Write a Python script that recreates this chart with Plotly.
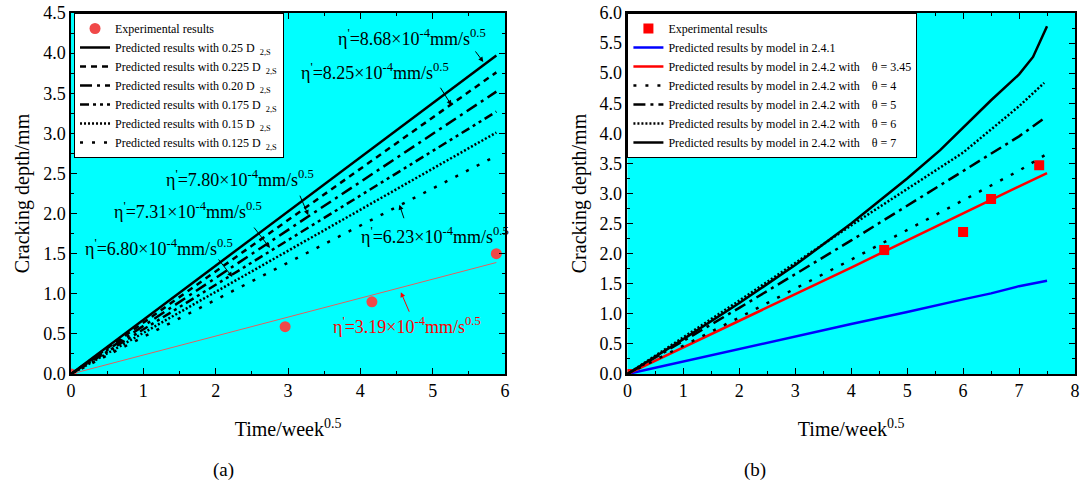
import plotly.graph_objects as go

# ---------------- Panel (a) data ----------------
a_exp_x = [0, 2.96, 4.16, 5.88]
a_exp_y = [0, 0.59, 0.90, 1.50]
a_fit_x = [0, 5.88]
a_fit_y = [0, 1.39]
a_line_x = [0, 5.88]
a_labels = ["0.25", "0.225", "0.20", "0.175", "0.15", "0.125"]
a_line_end = [3.97, 3.76, 3.52, 3.27, 3.01, 2.72]
a_dashes = ["solid", "6px,5px", "12px,5px,3px,5px", "9px,4px,3px,4px,3px,4px", "2px,2px", "3px,9px"]

# ---------------- Panel (b) data ----------------
b_exp_x = [0, 4.59, 6.0, 6.5, 7.36]
b_exp_y = [0, 2.06, 2.36, 2.91, 3.47]
b_blue_x = [0, 1, 2, 3, 4, 5, 5.6, 6, 6.5, 7, 7.5]
b_blue_y = [0, 0.21, 0.42, 0.62, 0.83, 1.03, 1.16, 1.24, 1.34, 1.46, 1.55]
b_red_x = [0, 2, 4, 6, 7.5]
b_red_y = [0, 0.88, 1.77, 2.67, 3.34]
b_t4_x = [0, 2, 4, 6, 7, 7.5]
b_t4_y = [0, 0.94, 1.90, 2.88, 3.38, 3.66]
b_t5_x = [0, 2, 4, 6, 7, 7.45]
b_t5_y = [0, 1.10, 2.22, 3.37, 3.95, 4.25]
b_t6_x = [0, 2, 4, 6, 7, 7.45]
b_t6_y = [0, 1.22, 2.47, 3.68, 4.45, 4.84]
b_t7_x = [0, 1, 2, 3, 4, 5, 5.59, 6, 6.5, 7, 7.25, 7.5]
b_t7_y = [0, 0.58, 1.18, 1.81, 2.50, 3.25, 3.72, 4.10, 4.55, 4.98, 5.27, 5.78]
b_thetas = ["3.45", "4", "5", "6", "7"]

FONT = "Liberation Serif"
NB = "\u00a0"

fig = go.Figure()

# Panel (a) traces
fig.add_trace(go.Scatter(x=a_exp_x, y=a_exp_y, mode="markers", name="Experimental results",
                         marker=dict(color="#F04848", size=11, symbol="circle"),
                         xaxis="x", yaxis="y", legend="legend"))
fig.add_trace(go.Scatter(x=a_fit_x, y=a_fit_y, mode="lines", showlegend=False,
                         line=dict(color="#E06060", width=1),
                         xaxis="x", yaxis="y"))
for lab, yend, dsh in zip(a_labels, a_line_end, a_dashes):
    fig.add_trace(go.Scatter(x=a_line_x, y=[0, yend], mode="lines",
                             name=f"Predicted results with {lab} D{NB}<sub>{NB}2,S</sub>",
                             line=dict(color="black", width=2.5, dash=dsh),
                             xaxis="x", yaxis="y", legend="legend"))

# Panel (b) traces
fig.add_trace(go.Scatter(x=b_exp_x, y=b_exp_y, mode="markers", name="Experimental results",
                         marker=dict(color="#FF0000", size=10, symbol="square"),
                         xaxis="x2", yaxis="y2", legend="legend2"))
fig.add_trace(go.Scatter(x=b_blue_x, y=b_blue_y, mode="lines", name="Predicted results by model in 2.4.1",
                         line=dict(color="#0000FF", width=2.5), xaxis="x2", yaxis="y2", legend="legend2"))
b_series = [(b_red_x, b_red_y, "#FF0000", "solid"),
            (b_t4_x, b_t4_y, "black", "3px,9px"),
            (b_t5_x, b_t5_y, "black", "12px,5px,3px,5px"),
            (b_t6_x, b_t6_y, "black", "2px,2px"),
            (b_t7_x, b_t7_y, "black", "solid")]
for th, (xs, ys, col, dsh) in zip(b_thetas, b_series):
    fig.add_trace(go.Scatter(x=xs, y=ys, mode="lines",
                             name=f"Predicted results by model in 2.4.2 with{NB*4}θ = {th}",
                             line=dict(color=col, width=2.5, dash=dsh),
                             xaxis="x2", yaxis="y2", legend="legend2"))

axis_common = dict(showline=True, linecolor="black", linewidth=1.5, mirror="allticks",
                   ticks="inside", ticklen=6, tickwidth=1.2, tickcolor="black",
                   showgrid=False, zeroline=False, automargin=False,
                   tickfont=dict(family=FONT, size=18, color="black"),
                   title_font=dict(family=FONT, size=20, color="black"))

fig.update_layout(
    width=1081, height=484,
    margin=dict(l=71, r=6, t=13, b=110),
    paper_bgcolor="white", plot_bgcolor="#00FFFF",
    font=dict(family=FONT, color="black"),
    xaxis=dict(domain=[0, 0.4323], range=[0, 6], dtick=1, anchor="y",
               minor=dict(ticks="inside", ticklen=3, dtick=0.5, tickcolor="black"),
               title=dict(text="Time/week<sup>0.5</sup>", standoff=22), **axis_common),
    yaxis=dict(domain=[0, 1], range=[0, 4.5], dtick=0.5, tickformat=".1f", anchor="x",
               minor=dict(ticks="inside", ticklen=3, dtick=0.25, tickcolor="black"),
               title=dict(text="Cracking depth/mm", standoff=8), **axis_common),
    xaxis2=dict(domain=[0.5542, 1.0], range=[0, 8], dtick=1, anchor="y2",
                minor=dict(ticks="inside", ticklen=3, dtick=0.5, tickcolor="black"),
                title=dict(text="Time/week<sup>0.5</sup>", standoff=22), **axis_common),
    yaxis2=dict(domain=[0, 1], range=[0, 6], dtick=0.5, tickformat=".1f", anchor="x2",
                minor=dict(ticks="inside", ticklen=3, dtick=0.25, tickcolor="black"),
                title=dict(text="Cracking depth/mm", standoff=8), **axis_common),
    legend=dict(x=0.003, y=1, xanchor="left", yanchor="top", bgcolor="white",
                bordercolor="black", borderwidth=1, font=dict(family=FONT, size=12, color="black"),
                tracegroupgap=0, itemwidth=30),
    legend2=dict(x=0.5542, y=1, xanchor="left", yanchor="top", bgcolor="white",
                 bordercolor="black", borderwidth=1, font=dict(family=FONT, size=12, color="black"),
                 tracegroupgap=0, itemwidth=30),
)

# Annotations panel (a)
texts_a = [
    ("η<sup>'</sup>=8.68×10<sup>-4</sup>mm/s<sup>0.5</sup>", 4.72, 4.20, 5.70, 3.89, -9, -12, "black"),
    ("η<sup>'</sup>=8.25×10<sup>-4</sup>mm/s<sup>0.5</sup>", 4.20, 3.77, 5.26, 3.35, -12, -19, "black"),
    ("η<sup>'</sup>=7.80×10<sup>-4</sup>mm/s<sup>0.5</sup>", 2.34, 2.44, 3.28, 1.98, -9, -21, "black"),
    ("η<sup>'</sup>=7.31×10<sup>-4</sup>mm/s<sup>0.5</sup>", 1.62, 2.04, 2.75, 1.57, -17, -22, "black"),
    ("η<sup>'</sup>=6.80×10<sup>-4</sup>mm/s<sup>0.5</sup>", 1.21, 1.58, 2.23, 1.21, -15, -19, "black"),
    ("η<sup>'</sup>=6.23×10<sup>-4</sup>mm/s<sup>0.5</sup>", 5.03, 1.73, 4.54, 2.11, 5, 15, "black"),
    ("η<sup>'</sup>=3.19×10<sup>-4</sup>mm/s<sup>0.5</sup>", 4.64, 0.61, 4.56, 1.02, 9, 21, "#FF0000"),
]
for txt, tx, ty, hx, hy, ax, ay, col in texts_a:
    fig.add_annotation(x=tx, y=ty, xref="x", yref="y", text=txt, showarrow=False,
                       font=dict(family=FONT, size=18, color=col))
    fig.add_annotation(x=hx, y=hy, xref="x", yref="y", text="", showarrow=True,
                       ax=ax, ay=ay, arrowhead=2, arrowsize=1, arrowwidth=1, arrowcolor=col)

fig.add_annotation(x=0.139, y=-0.302, xref="paper", yref="paper", text="(a)", showarrow=False,
                   font=dict(family=FONT, size=19, color="black"))
fig.add_annotation(x=0.6945, y=-0.302, xref="paper", yref="paper", text="(b)", showarrow=False,
                   font=dict(family=FONT, size=19, color="black"))

fig.write_html("out.html", config={"displayModeBar": False},
               post_script="document.body.style.margin='0';document.body.style.overflow='hidden';")
